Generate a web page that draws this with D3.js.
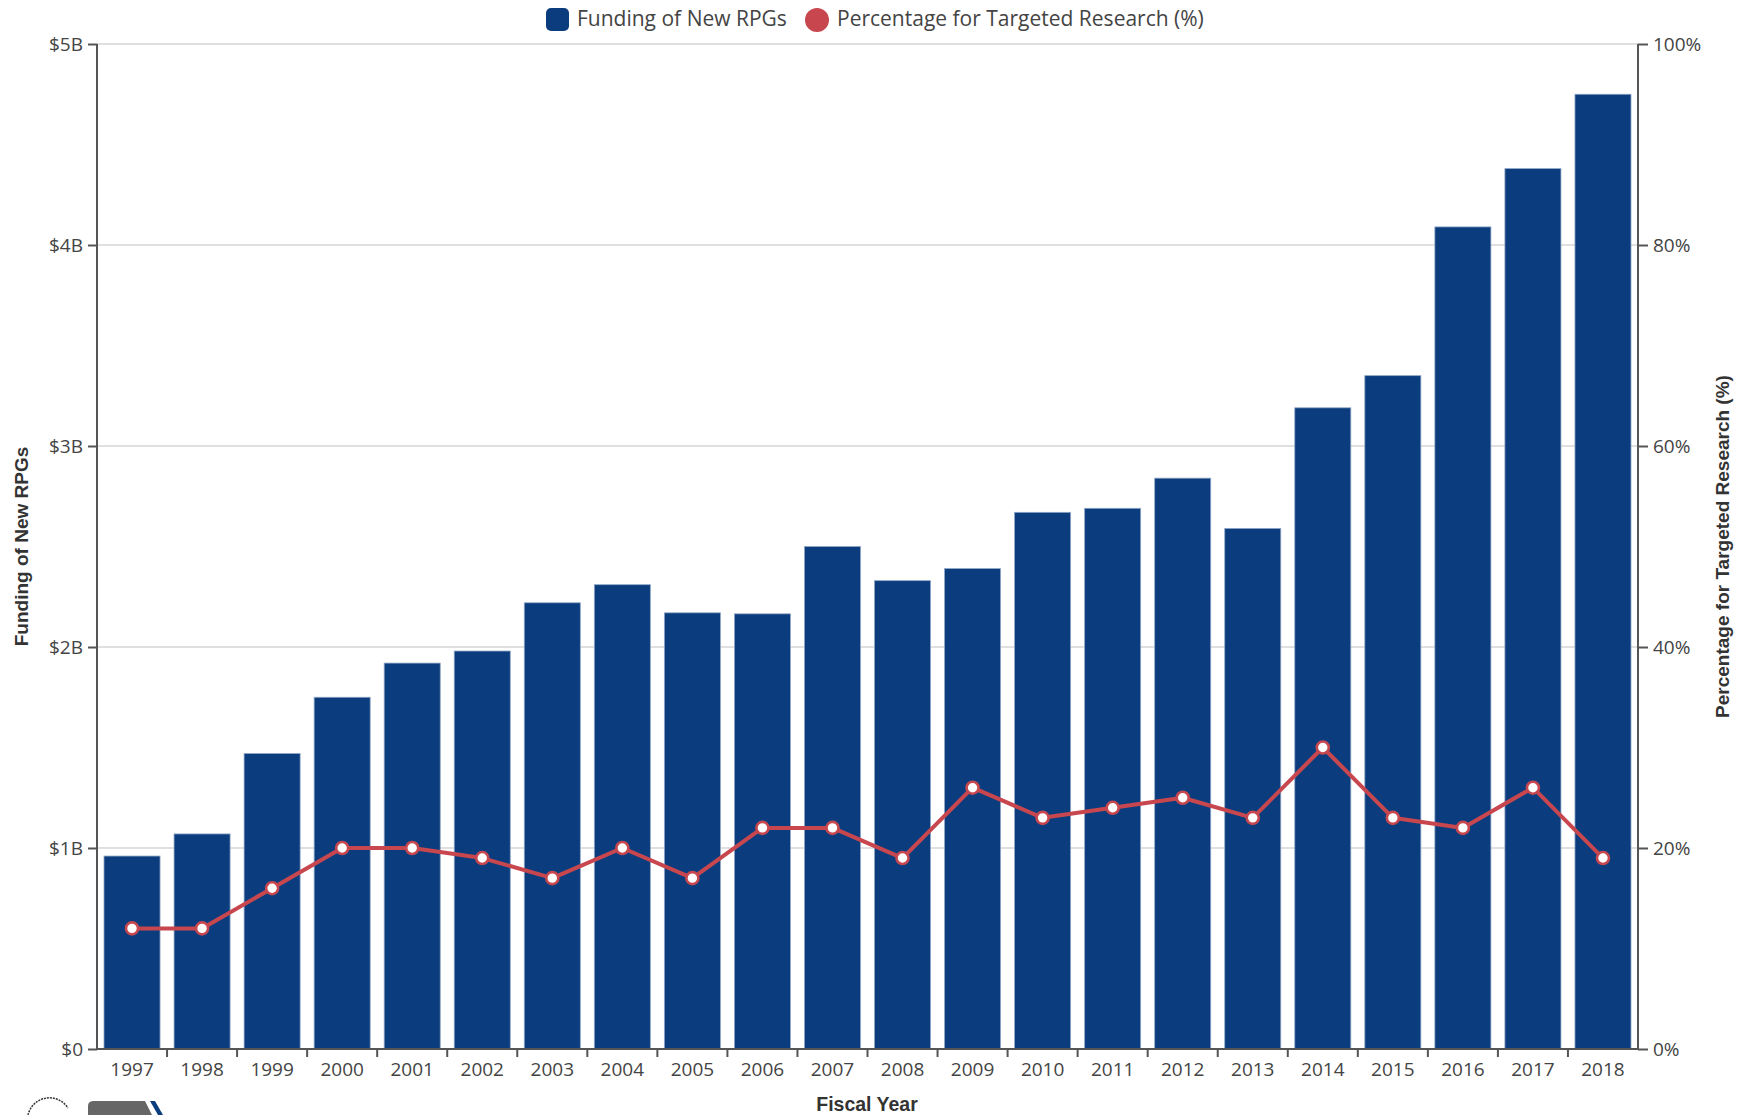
<!DOCTYPE html>
<html><head><meta charset="utf-8">
<script src="https://cdn.jsdelivr.net/npm/d3@7"></script>
<style>
html,body{margin:0;padding:0;background:#fff;}
svg{display:block;font-family:"Open Sans",sans-serif;}
</style></head>
<body>
<svg id="chart" width="1740" height="1115"></svg>
<script>
const years = ["1997","1998","1999","2000","2001","2002","2003","2004","2005","2006","2007","2008","2009","2010","2011","2012","2013","2014","2015","2016","2017","2018"];
const funding = [0.96,1.07,1.47,1.75,1.92,1.98,2.22,2.31,2.17,2.165,2.50,2.33,2.39,2.67,2.69,2.84,2.59,3.19,3.35,4.09,4.38,4.75]; // $B
const percent = [12,12,16,20,20,19,17,20,17,22,22,19,26,23,24,25,23,30,23,22,26,19];
const leftTicks = [0,1,2,3,4,5];
const leftTickLabels = ["$0","$1B","$2B","$3B","$4B","$5B"];
const rightTicks = [0,20,40,60,80,100];
const seriesNames = ["Funding of New RPGs","Percentage for Targeted Research (%)"];

const svg = d3.select("#chart");
const L = 97, R = 1638, T = 44, B = 1049;
const barColor = "#0b3d7e", lineColor = "#c8474f";
const titleFont = "'Liberation Sans', Arial, sans-serif";

const x = d3.scaleBand().domain(years).range([L, R]).paddingInner(0.2).paddingOuter(0.1);
const yL = d3.scaleLinear().domain([0,5]).range([B, T]);
const yR = d3.scaleLinear().domain([0,100]).range([B, T]);

// gridlines
svg.append("g").selectAll("line").data(leftTicks.slice(1)).join("line")
  .attr("x1", L).attr("x2", R).attr("y1", d=>yL(d)).attr("y2", d=>yL(d))
  .attr("stroke", "#d6d6d6").attr("stroke-width", 1.5);

// bars
svg.append("g").selectAll("rect").data(years).join("rect")
  .attr("x", d=>x(d)).attr("width", x.bandwidth())
  .attr("y", (d,i)=>yL(funding[i])).attr("height", (d,i)=>B - yL(funding[i]))
  .attr("fill", barColor).attr("stroke", "#8fa6c6").attr("stroke-width", 0.8);

// axes
const tickFont = 19, tickColor = "#444";
const leftAxis = svg.append("g").attr("transform", `translate(${L},0)`)
  .call(d3.axisLeft(yL).tickValues(leftTicks).tickFormat((d,i)=>leftTickLabels[i]).tickSize(9).tickPadding(5).tickSizeOuter(0));
const rightAxis = svg.append("g").attr("transform", `translate(${R},0)`)
  .call(d3.axisRight(yR).tickValues(rightTicks).tickFormat(d=>d+"%").tickSize(10).tickPadding(5).tickSizeOuter(0));
const bottomAxis = svg.append("g").attr("transform", `translate(0,${B})`)
  .call(d3.axisBottom(x).tickSize(0).tickPadding(14).tickSizeOuter(0));
// boundary ticks on x axis
svg.append("g").selectAll("line").data(years.slice(1)).join("line")
  .attr("x1", d=>x(d) - x.step()*x.paddingInner()/2).attr("x2", d=>x(d) - x.step()*x.paddingInner()/2)
  .attr("y1", B).attr("y2", B+8).attr("stroke", "#555").attr("stroke-width", 2);

[leftAxis, rightAxis, bottomAxis].forEach(g=>{
  g.select(".domain").attr("stroke", "#555").attr("stroke-width", 2);
  g.selectAll(".tick line").attr("stroke", "#555").attr("stroke-width", 2);
  g.selectAll(".tick text").attr("font-size", tickFont).attr("fill", tickColor).attr("font-family", "'Open Sans', sans-serif");
});
leftAxis.select(".domain").attr("d", `M0,${B}V${T}`);
rightAxis.select(".domain").attr("d", `M0,${B}V${T}`);
bottomAxis.select(".domain").attr("d", `M${L},0H${R}`);

// line
const line = d3.line().x((d,i)=>x(years[i]) + x.bandwidth()/2).y(d=>yR(d));
svg.append("path").datum(percent).attr("d", line)
  .attr("fill", "none").attr("stroke", lineColor).attr("stroke-width", 4).attr("stroke-linejoin", "round");
svg.append("g").selectAll("circle").data(percent).join("circle")
  .attr("cx", (d,i)=>x(years[i]) + x.bandwidth()/2).attr("cy", d=>yR(d)).attr("r", 6)
  .attr("fill", "#fff").attr("stroke", lineColor).attr("stroke-width", 2.6);

// axis titles
svg.append("text").attr("transform", `translate(28,${(T+B)/2}) rotate(-90)`)
  .attr("text-anchor", "middle").attr("font-size", 19).attr("font-weight", "bold").attr("fill", "#333")
  .attr("font-family", titleFont).text("Funding of New RPGs");
svg.append("text").attr("transform", `translate(1729,${(T+B)/2}) rotate(-90)`)
  .attr("text-anchor", "middle").attr("font-size", 19).attr("font-weight", "bold").attr("fill", "#333")
  .attr("font-family", titleFont).text(seriesNames[1]);
svg.append("text").attr("x", 867).attr("y", 1111)
  .attr("text-anchor", "middle").attr("font-size", 19.5).attr("font-weight", "bold").attr("fill", "#333")
  .attr("font-family", titleFont).text("Fiscal Year");

// legend
const lg = svg.append("g");
lg.append("rect").attr("x", 546).attr("y", 8).attr("width", 23).attr("height", 23).attr("rx", 5).attr("fill", barColor);
lg.append("text").attr("x", 577).attr("y", 26).attr("font-size", 21).attr("fill", "#444").text(seriesNames[0]);
lg.append("circle").attr("cx", 817).attr("cy", 20).attr("r", 12).attr("fill", lineColor);
lg.append("text").attr("x", 837).attr("y", 26).attr("font-size", 21).attr("fill", "#444").text(seriesNames[1]);

// partial logos at bottom-left (decorative)
const logo = svg.append("g");
logo.append("path").attr("d", "M88,1115 V1106 Q88,1101 94,1101 H145 L152,1115 Z").attr("fill", "#666");
logo.append("path").attr("d", "M150,1101 L155,1101 L163,1115 L158,1115 Z").attr("fill", barColor);
logo.append("path").attr("d", "M28,1115 A22,22 0 0 1 68,1108").attr("fill", "none").attr("stroke", "#333").attr("stroke-width", 1.5).attr("stroke-dasharray", "2,1");
</script>
</body></html>
